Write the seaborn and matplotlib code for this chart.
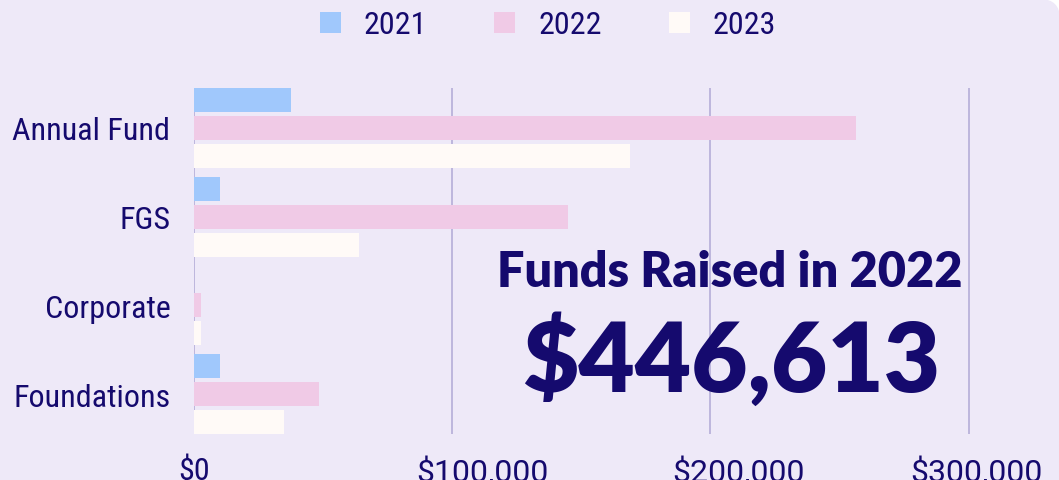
import seaborn as sns
import matplotlib.pyplot as plt
import matplotlib.transforms as mtransforms
from matplotlib.patches import FancyBboxPatch
from matplotlib.ticker import FuncFormatter
import pandas as pd

categories = ['Annual Fund', 'FGS', 'Corporate', 'Foundations']
years = ['2021', '2022', '2023']
raised_2021 = [37500, 10000, 0, 10000]
raised_2022 = [256500, 145000, 2800, 48500]
raised_2023 = [169000, 64000, 2900, 35000]
headline = 'Funds Raised in 2022'
total_2022 = '$446,613'

bg = '#EEE9F8'
navy = '#150A6E'
palette = ['#A0C8FC', '#F0CAE6', '#FFFAF7']

df = pd.DataFrame({
    'category': categories * 3,
    'year': [y for y in years for _ in categories],
    'amount': raised_2021 + raised_2022 + raised_2023,
})

sns.set_style('white')
plt.rcParams['font.family'] = ['Roboto Condensed', 'Liberation Sans Narrow', 'Roboto', 'DejaVu Sans']

fig = plt.figure(figsize=(10.59, 4.81), dpi=100)
fig.patch.set_facecolor('white')

# card background with rounded corner (pixel coords)
px = mtransforms.Affine2D().scale(1 / 1059, 1 / 481) + fig.transFigure
card = FancyBboxPatch((-60, -60), 1120, 541, boxstyle='round,pad=0,rounding_size=20',
                      transform=px, facecolor=bg, edgecolor='none', zorder=-10)
fig.patches.append(card)

ax = fig.add_axes([194 / 1059, 46 / 481, 865 / 1059, 346 / 481])
ax.set_facecolor('none')

sns.barplot(data=df, y='category', x='amount', hue='year', palette=palette,
            orient='h', width=0.945, gap=0.143, saturation=1, linewidth=0,
            ax=ax, zorder=3)

ax.set_xlim(0, 335000)
ax.set_ylim(3.45, -0.45)
ax.set_xticks([0, 100000, 200000, 300000])
ax.xaxis.set_major_formatter(FuncFormatter(lambda v, p: f'${v:,.0f}'))
ax.grid(axis='x', color='#BDB6DD', linewidth=1.4, zorder=0)
ax.grid(axis='y', visible=False)
for s in ax.spines.values():
    s.set_visible(False)
ax.set_xlabel('')
ax.set_ylabel('')
ax.tick_params(axis='x', length=0, pad=15.5, labelsize=23, labelcolor=navy)
ax.tick_params(axis='y', length=0, pad=17, labelsize=23, labelcolor=navy)

# the money labels sit a bit right of their gridlines in the original
shifts = [0, 30, 28, 8]
for lab, dx in zip(ax.get_xticklabels(), shifts):
    if dx:
        lab.set_fontfamily(['Roboto', 'DejaVu Sans'])
    lab.set_transform(lab.get_transform() + mtransforms.ScaledTranslation(dx / 100, 0, fig.dpi_scale_trans))

handles, labels = ax.get_legend_handles_labels()
ax.get_legend().remove()
fig.legend(handles, labels, loc='center', bbox_to_anchor=(548 / 1059, 1 - 26 / 481),
           ncol=3, frameon=False, fontsize=23, labelcolor=navy,
           handlelength=0.66, handleheight=0.66, handletextpad=0.72, columnspacing=2.1)

fig.text(730 / 1059, 1 - 273 / 481, headline, ha='center', va='center',
         fontsize=35, fontweight='heavy', color=navy, family=['Lato', 'DejaVu Sans'])
fig.text(731 / 1059, 1 - 360 / 481, total_2022, ha='center', va='center',
         fontsize=70, fontweight='heavy', color=navy, family=['Lato', 'DejaVu Sans'])

fig.savefig('out.png', dpi=100, facecolor=fig.get_facecolor())
